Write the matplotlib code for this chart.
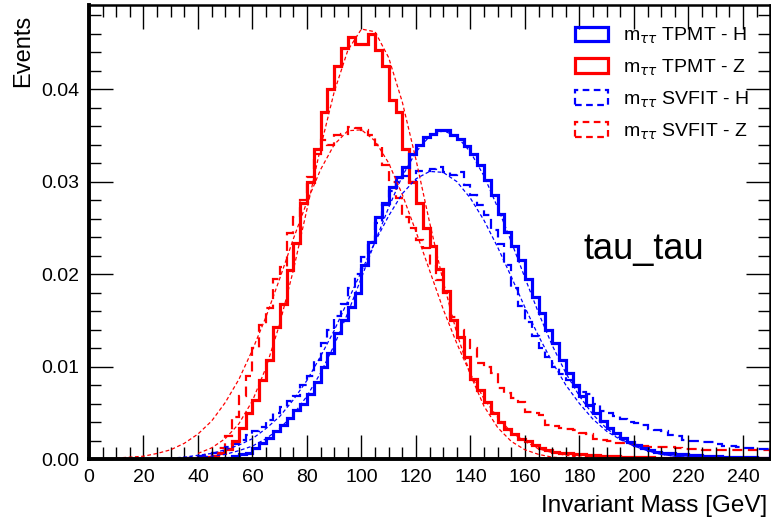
"""m_tautau TPMT vs SVFIT, H and Z samples (tau_tau channel), ROOT-style histogram."""
import matplotlib
matplotlib.use("Agg")
import matplotlib.pyplot as plt
from matplotlib.patches import Patch
from matplotlib.ticker import MultipleLocator
import numpy as np

plt.rcParams["font.family"] = ["Liberation Sans", "DejaVu Sans"]
plt.rcParams["mathtext.fontset"] = "dejavusans"

BIN_W = 2.5  # GeV

# histogram contents (normalised), first bin edge given separately
TPMT_Z_START = 40.0
TPMT_Z = [0.0001, 0.0002, 0.0003, 0.0006, 0.0011, 0.0019, 0.0033, 0.0050,
          0.0064, 0.0085, 0.0107, 0.0143, 0.0168, 0.0204, 0.0234, 0.0277,
          0.0300, 0.0335, 0.0375, 0.0400, 0.0425, 0.0445, 0.0456, 0.0449,
          0.0449, 0.0460, 0.0442, 0.0425, 0.0388, 0.0375, 0.0335, 0.0300,
          0.0277, 0.0250, 0.0230, 0.0205, 0.0182, 0.0150, 0.0132, 0.0110,
          0.0087, 0.0075, 0.0062, 0.0050, 0.0040, 0.0032, 0.0027, 0.0022,
          0.0019, 0.0015, 0.0012, 0.0010, 0.0008, 0.0007, 0.0006, 0.0005,
          0.0005, 0.0004, 0.0004, 0.0003, 0.0003, 0.0003, 0.0002, 0.0002,
          0.0002, 0.0002, 0.0002, 0.0001, 0.0001, 0.0001, 0.0001, 0.0001,
          0.0001, 0.0001, 0.0001, 0.0001, 0.0001, 0.0001, 0.0001, 0.0001,
          0.0001, 0.0001, 0.0001, 0.0001]

SVFIT_Z_START = 35.0
SVFIT_Z = [0.0001, 0.0001, 0.0002, 0.0004, 0.0007, 0.0012, 0.0025, 0.0045,
           0.0068, 0.0090, 0.0120, 0.0145, 0.0163, 0.0195, 0.0208, 0.0244,
           0.0262, 0.0280, 0.0305, 0.0330, 0.0345, 0.0340, 0.0350, 0.0352,
           0.0359, 0.0358, 0.0356, 0.0350, 0.0340, 0.0318, 0.0300, 0.0282,
           0.0262, 0.0250, 0.0237, 0.0228, 0.0210, 0.0194, 0.0180, 0.0154,
           0.0140, 0.0129, 0.0120, 0.0104, 0.0100, 0.0093, 0.0077, 0.0071,
           0.0066, 0.0062, 0.0051, 0.0050, 0.0048, 0.0037, 0.0036, 0.0033,
           0.0032, 0.0031, 0.0028, 0.0027, 0.0022, 0.0021, 0.0020, 0.0017,
           0.0017, 0.0016, 0.0015, 0.0014, 0.0013, 0.0013, 0.0013, 0.0013,
           0.0012, 0.0011, 0.0011, 0.0011, 0.0010, 0.0010, 0.0010, 0.0010,
           0.0010, 0.0010, 0.0010, 0.0010, 0.0010, 0.0010]

TPMT_H_START = 50.0
TPMT_H = [0.0001, 0.0003, 0.0005, 0.0007, 0.0012, 0.0017, 0.0023, 0.0030,
          0.0037, 0.0044, 0.0053, 0.0060, 0.0070, 0.0083, 0.0100, 0.0115,
          0.0136, 0.0150, 0.0164, 0.0180, 0.0210, 0.0235, 0.0262, 0.0277,
          0.0294, 0.0305, 0.0316, 0.0330, 0.0340, 0.0348, 0.0352, 0.0356,
          0.0356, 0.0350, 0.0346, 0.0338, 0.0330, 0.0318, 0.0302, 0.0285,
          0.0265, 0.0245, 0.0230, 0.0215, 0.0195, 0.0175, 0.0158, 0.0140,
          0.0125, 0.0107, 0.0093, 0.0080, 0.0068, 0.0058, 0.0050, 0.0041,
          0.0034, 0.0028, 0.0023, 0.0018, 0.0015, 0.0012, 0.0010, 0.0008,
          0.0007, 0.0006, 0.0005, 0.0005, 0.0004, 0.0004, 0.0003, 0.0003,
          0.0003, 0.0002, 0.0002, 0.0002, 0.0002, 0.0002, 0.0001, 0.0001]

SVFIT_H_START = 35.0
SVFIT_H = [0.0001, 0.0002, 0.0003, 0.0004, 0.0006, 0.0009, 0.0013, 0.0016,
           0.0021, 0.0026, 0.0030, 0.0035, 0.0042, 0.0050, 0.0056, 0.0063,
           0.0068, 0.0080, 0.0090, 0.0107, 0.0125, 0.0140, 0.0155, 0.0168,
           0.0185, 0.0200, 0.0218, 0.0235, 0.0255, 0.0275, 0.0290, 0.0300,
           0.0306, 0.0300, 0.0312, 0.0312, 0.0314, 0.0316, 0.0310, 0.0307,
           0.0310, 0.0296, 0.0285, 0.0275, 0.0264, 0.0248, 0.0232, 0.0210,
           0.0185, 0.0165, 0.0148, 0.0133, 0.0120, 0.0110, 0.0100, 0.0092,
           0.0085, 0.0078, 0.0073, 0.0070, 0.0060, 0.0052, 0.0050, 0.0046,
           0.0043, 0.0040, 0.0039, 0.0037, 0.0032, 0.0031, 0.0030, 0.0026,
           0.0025, 0.0021, 0.0019, 0.0019, 0.0018, 0.0018, 0.0016, 0.0014,
           0.0014, 0.0013, 0.0012, 0.0012, 0.0011, 0.0011]

FIT_TPMT_Z_X = [40, 45, 50, 55, 60, 65, 70, 75, 80, 85, 90, 95, 100, 105, 110,
                115, 120, 125, 130, 135, 140, 145, 150, 155, 160, 165, 170, 175]
FIT_TPMT_Z = [0.0006, 0.0012, 0.0022, 0.0038, 0.0063, 0.0099, 0.0146, 0.0204,
              0.0270, 0.0337, 0.0397, 0.0442, 0.0465, 0.0462, 0.0434, 0.0386,
              0.0324, 0.0256, 0.0192, 0.0136, 0.0091, 0.0057, 0.0034, 0.0019,
              0.0010, 0.0005, 0.0002, 0.0001]

FIT_SVFIT_Z_X = [10, 15, 20, 25, 30, 35, 40, 45, 50, 55, 60, 65, 70, 75, 80, 85,
                 90, 95, 100, 105, 110, 115, 120, 125, 130, 135, 140, 145, 150,
                 155, 160, 165, 170, 175, 180, 185, 190]
FIT_SVFIT_Z = [0.0001, 0.0002, 0.0003, 0.0006, 0.0010, 0.0017, 0.0027, 0.0041,
               0.0061, 0.0086, 0.0118, 0.0154, 0.0195, 0.0238, 0.0278, 0.0313,
               0.0340, 0.0355, 0.0356, 0.0344, 0.0320, 0.0286, 0.0246, 0.0204,
               0.0162, 0.0125, 0.0092, 0.0065, 0.0045, 0.0029, 0.0019, 0.0011,
               0.0007, 0.0004, 0.0002, 0.0001, 0.0001]

FIT_TPMT_H_X = [40, 45, 50, 55, 60, 65, 70, 75, 80, 85, 90, 95, 100, 105, 110,
                115, 120, 125, 130, 135, 140, 145, 150, 155, 160, 165, 170, 175,
                180, 185, 190, 195, 200, 205, 210, 215, 220, 225]
FIT_TPMT_H = [0.0002, 0.0003, 0.0005, 0.0009, 0.0014, 0.0022, 0.0033, 0.0048,
              0.0068, 0.0093, 0.0123, 0.0158, 0.0196, 0.0235, 0.0272, 0.0306,
              0.0332, 0.0349, 0.0355, 0.0349, 0.0332, 0.0306, 0.0272, 0.0235,
              0.0196, 0.0158, 0.0123, 0.0093, 0.0068, 0.0048, 0.0033, 0.0022,
              0.0014, 0.0009, 0.0005, 0.0003, 0.0002, 0.0001]

FIT_SVFIT_H_X = [30, 35, 40, 45, 50, 55, 60, 65, 70, 75, 80, 85, 90, 95, 100,
                 105, 110, 115, 120, 125, 130, 135, 140, 145, 150, 155, 160, 165,
                 170, 175, 180, 185, 190, 195, 200, 205, 210, 215, 220, 225]
FIT_SVFIT_H = [0.0001, 0.0002, 0.0004, 0.0006, 0.0010, 0.0015, 0.0022, 0.0033,
               0.0046, 0.0064, 0.0085, 0.0111, 0.0139, 0.0171, 0.0203, 0.0235,
               0.0263, 0.0287, 0.0303, 0.0311, 0.0310, 0.0300, 0.0282, 0.0258,
               0.0229, 0.0197, 0.0164, 0.0133, 0.0105, 0.0080, 0.0060, 0.0043,
               0.0030, 0.0021, 0.0014, 0.0009, 0.0005, 0.0003, 0.0002, 0.0001]

LABELS = [r"m$_{\tau\tau}$ TPMT - H", r"m$_{\tau\tau}$ TPMT - Z",
          r"m$_{\tau\tau}$ SVFIT - H", r"m$_{\tau\tau}$ SVFIT - Z"]

BLUE, RED = "#0000ff", "#ff0000"
DASH_H = (0, (4.5, 2.5))
DASH_F = (0, (3, 2))


def edges(start, vals):
    return start + BIN_W * np.arange(len(vals) + 1)


fig = plt.figure(figsize=(7.71, 5.19), dpi=100)
ax = fig.add_axes([0.1154, 0.1156, 0.8835, 0.8748])

# thin dashed fit curves
ax.plot(FIT_SVFIT_Z_X, FIT_SVFIT_Z, color=RED, lw=0.9, ls=DASH_F)
ax.plot(FIT_TPMT_Z_X, FIT_TPMT_Z, color=RED, lw=0.9, ls=DASH_F)
ax.plot(FIT_SVFIT_H_X, FIT_SVFIT_H, color=BLUE, lw=0.9, ls=DASH_F)
ax.plot(FIT_TPMT_H_X, FIT_TPMT_H, color=BLUE, lw=0.9, ls=DASH_F)

# histograms
ax.stairs(SVFIT_Z, edges(SVFIT_Z_START, SVFIT_Z), color=RED, lw=1.6, ls=DASH_H)
ax.stairs(SVFIT_H, edges(SVFIT_H_START, SVFIT_H), color=BLUE, lw=1.6, ls=DASH_H)
ax.stairs(TPMT_Z, edges(TPMT_Z_START, TPMT_Z), color=RED, lw=2.3)
ax.stairs(TPMT_H, edges(TPMT_H_START, TPMT_H), color=BLUE, lw=2.3)

ax.set_xlim(0, 250)
ax.set_ylim(0, 0.0491)
ax.xaxis.set_major_locator(MultipleLocator(20))
ax.xaxis.set_minor_locator(MultipleLocator(5))
ax.yaxis.set_major_locator(MultipleLocator(0.01))
ax.yaxis.set_minor_locator(MultipleLocator(0.002))
ax.yaxis.set_major_formatter(lambda v, p: f"{v:.2f}")
ax.tick_params(which="both", direction="in", top=True, right=True,
               labelsize=14, width=1.0, color="black")
ax.tick_params(which="major", length=17, pad=7)
ax.tick_params(which="minor", length=8.5)
for side in ["left", "bottom"]:
    ax.spines[side].set_linewidth(2.8)
for side in ["top", "right"]:
    ax.spines[side].set_linewidth(1.8)

ax.set_xlabel("Invariant Mass [GeV]", fontsize=17.5, loc="right")
ax.xaxis.set_label_coords(0.996, -0.080)
ax.set_ylabel("Events", fontsize=17, loc="top")
ax.yaxis.set_label_coords(-0.081, 0.978)

ax.text(181.5, 0.0216, "tau_tau", fontsize=26, ha="left", va="baseline")

handles = [Patch(facecolor="none", edgecolor=BLUE, lw=2.3),
           Patch(facecolor="none", edgecolor=RED, lw=2.3),
           Patch(facecolor="none", edgecolor=BLUE, lw=1.6, ls=(0, (3, 2))),
           Patch(facecolor="none", edgecolor=RED, lw=1.6, ls=(0, (3, 2)))]
ax.legend(handles, LABELS, loc="upper right", bbox_to_anchor=(0.969, 0.955),
          frameon=False, fontsize=14, handlelength=1.65, handleheight=0.75,
          labelspacing=0.6, handletextpad=0.8, borderaxespad=0, borderpad=0)

fig.savefig("out.png", dpi=100)
